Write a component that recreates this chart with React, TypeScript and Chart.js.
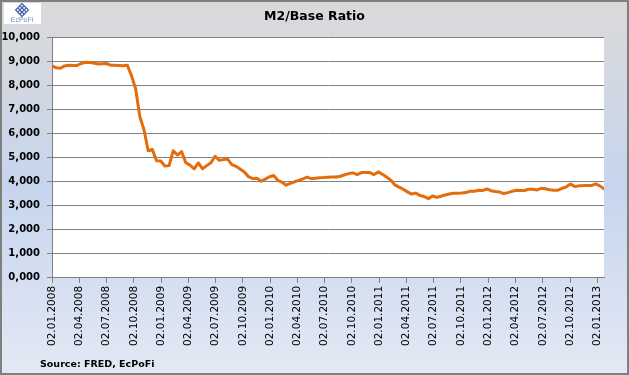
import React, { useEffect, useRef } from "react";
import { Chart, registerables } from "chart.js";

Chart.register(...registerables);

const chartTitle = "M2/Base Ratio";
const sourceText = "Source: FRED, EcPoFi";
const logoText = "EcPoFi";

// Series: biweekly observations starting 02.01.2008
const seriesStart = "2008-01-02";
const stepDays = 14;
const ratioValues = [
  8800, 8720, 8700, 8800, 8830, 8820, 8820, 8900, 8950, 8940,
  8920, 8880, 8890, 8900, 8830, 8830, 8820, 8810, 8830, 8400,
  7850, 6700, 6150, 5280, 5330, 4860, 4850, 4640, 4660, 5280,
  5100, 5240, 4780, 4680, 4530, 4770, 4530, 4660, 4780, 5050,
  4880, 4910, 4930, 4700, 4630, 4520, 4400, 4200, 4120, 4140,
  4010, 4100, 4200, 4250, 4050, 3970, 3850, 3920, 3990, 4050,
  4110, 4180, 4120, 4140, 4160, 4165, 4175, 4185, 4190, 4220,
  4280, 4330, 4360, 4290, 4370, 4375, 4370, 4290, 4400, 4300,
  4190, 4060, 3860, 3770, 3680, 3570, 3480, 3520, 3420, 3380,
  3290, 3400, 3340, 3390, 3440, 3480, 3510, 3515, 3520, 3540,
  3600, 3600, 3640, 3630, 3690, 3620, 3590, 3570, 3500, 3540,
  3590, 3640, 3630, 3630, 3680, 3680, 3650, 3720, 3700, 3660,
  3640, 3640, 3720, 3780, 3900, 3790, 3820, 3830, 3830, 3830,
  3900, 3820, 3700,
];

const xTickLabels = [
  "02.01.2008", "02.04.2008", "02.07.2008", "02.10.2008",
  "02.01.2009", "02.04.2009", "02.07.2009", "02.10.2009",
  "02.01.2010", "02.04.2010", "02.07.2010", "02.10.2010",
  "02.01.2011", "02.04.2011", "02.07.2011", "02.10.2011",
  "02.01.2012", "02.04.2012", "02.07.2012", "02.10.2012",
  "02.01.2013",
];

const yTickLabels = [
  "0,000", "1,000", "2,000", "3,000", "4,000", "5,000",
  "6,000", "7,000", "8,000", "9,000", "10,000",
];

const DAY = 86400000;
const startMs = Date.parse(seriesStart + "T00:00:00Z");
const labelToOffset = (s: string) => {
  const [d, m, y] = s.split(".").map(Number);
  return Math.round((Date.UTC(y, m - 1, d) - startMs) / DAY);
};
const xTickOffsets = xTickLabels.map(labelToOffset);
const points = ratioValues.map((v, i) => ({ x: i * stepDays, y: v }));

const FONT = "'DejaVu Sans', sans-serif";

const backgroundPlugin = {
  id: "bgPlugin",
  beforeDraw(chart: any) {
    const { ctx, width, height, chartArea } = chart;
    ctx.save();
    const g = ctx.createLinearGradient(0, 0, 0, height);
    g.addColorStop(0, "#d9d9d9");
    g.addColorStop(0.12, "#d6d9de");
    g.addColorStop(0.5, "#c6d5ee");
    g.addColorStop(1, "#e3e9f4");
    ctx.fillStyle = g;
    ctx.fillRect(0, 0, width, height);
    ctx.fillStyle = "#ffffff";
    ctx.fillRect(chartArea.left, chartArea.top, chartArea.right - chartArea.left, chartArea.bottom - chartArea.top);
    ctx.restore();
  },
  afterDraw(chart: any) {
    const { ctx, width, height, chartArea } = chart;
    ctx.save();
    // outer border
    ctx.strokeStyle = "#7f7f7f";
    ctx.lineWidth = 2;
    ctx.strokeRect(1, 1, width - 2, height - 2);
    // title
    ctx.fillStyle = "#000000";
    ctx.font = "bold 12.5px " + FONT;
    ctx.textAlign = "center";
    ctx.textBaseline = "middle";
    ctx.fillText(chartTitle, width / 2, 17);
    // logo
    ctx.fillStyle = "#ffffff";
    ctx.fillRect(4, 3, 37, 21);
    ctx.save();
    ctx.translate(22, 10);
    ctx.rotate(Math.PI / 4);
    ctx.strokeStyle = "#3d5fa8";
    ctx.lineWidth = 1.2;
    ctx.strokeRect(-4.5, -4.5, 9, 9);
    ctx.beginPath();
    ctx.moveTo(-1.5, -4.5); ctx.lineTo(-1.5, 4.5);
    ctx.moveTo(1.5, -4.5); ctx.lineTo(1.5, 4.5);
    ctx.moveTo(-4.5, -1.5); ctx.lineTo(4.5, -1.5);
    ctx.moveTo(-4.5, 1.5); ctx.lineTo(4.5, 1.5);
    ctx.stroke();
    ctx.restore();
    ctx.fillStyle = "#6f8cc4";
    ctx.font = "7px 'Liberation Sans', sans-serif";
    ctx.textAlign = "center";
    ctx.textBaseline = "middle";
    ctx.fillText(logoText, 22, 20);
    // source text
    ctx.fillStyle = "#000000";
    ctx.font = "bold 9.5px " + FONT;
    ctx.textAlign = "left";
    ctx.textBaseline = "alphabetic";
    ctx.fillText(sourceText, chartArea.left - 12, height - 8);
    ctx.restore();
  },
};

export default function App() {
  const ref = useRef<HTMLCanvasElement>(null);
  useEffect(() => {
    const chart = new Chart(ref.current as HTMLCanvasElement, {
      type: "line",
      data: {
        datasets: [
          {
            label: chartTitle,
            data: points,
            borderColor: "#E46C0A",
            borderWidth: 3,
            pointRadius: 0,
            tension: 0,
            borderJoinStyle: "round",
            borderCapStyle: "round",
            fill: false,
          },
        ],
      },
      options: {
        animation: false,
        responsive: false,
        maintainAspectRatio: false,
        layout: { padding: { left: 0, right: 25, top: 37, bottom: 26 } },
        plugins: {
          legend: { display: false },
          tooltip: { enabled: false },
          title: { display: false },
        },
        scales: {
          x: {
            type: "linear",
            min: 0,
            max: (ratioValues.length - 1) * stepDays,
            afterBuildTicks: (axis: any) => {
              axis.ticks = xTickOffsets.map((v) => ({ value: v }));
            },
            ticks: {
              autoSkip: false,
              maxRotation: 90,
              minRotation: 90,
              padding: 3,
              color: "#000000",
              font: { family: FONT, size: 10.5 },
              callback: (_v: any, i: number) => xTickLabels[i],
            },
            grid: {
              drawOnChartArea: false,
              drawTicks: true,
              tickLength: 5,
              color: "#808080",
            },
            border: { color: "#808080", width: 1 },
          },
          y: {
            min: 0,
            max: 10000,
            afterFit: (scale: any) => {
              scale.width = 52;
            },
            ticks: {
              stepSize: 1000,
              padding: 7,
              color: "#000000",
              font: { family: FONT, size: 10, weight: "bold" },
              callback: (v: any) => yTickLabels[Math.round(Number(v) / 1000)],
            },
            grid: {
              color: "#808080",
              lineWidth: 1,
              tickLength: 5,
            },
            border: { color: "#808080", width: 1 },
          },
        },
      },
      plugins: [backgroundPlugin],
    } as any);
    return () => chart.destroy();
  }, []);
  return (
    <div style={{ position: "fixed", left: 0, top: 0, width: 629, height: 375 }}>
      <canvas ref={ref} width={629} height={375} style={{ display: "block" }} />
    </div>
  );
}
